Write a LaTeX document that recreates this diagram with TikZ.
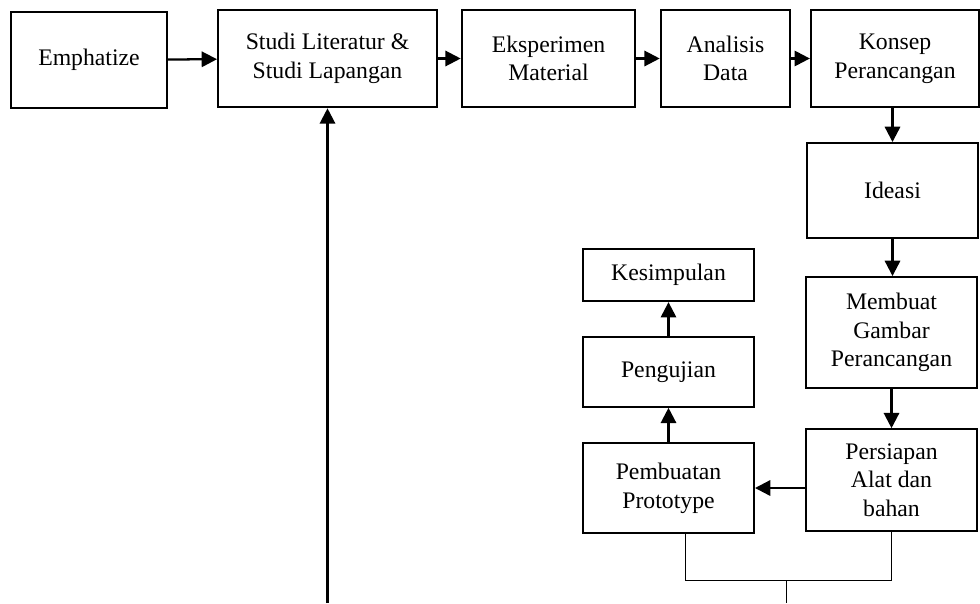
\documentclass[tikz,border=0pt]{standalone}
\usepackage{fontspec}
\setmainfont{Liberation Serif}
\usepackage{tikz}
\usetikzlibrary{positioning,shapes,arrows,arrows.meta}

\begin{document}
\begin{tikzpicture}[x=0.75pt,y=-0.75pt]
\tikzstyle{every node}+=[inner sep=0pt,font=\fontsize{17.8}{21.5}\selectfont]
\tikzstyle{box}=[draw=black,line width=1.7pt,align=center]
\tikzstyle{link}=[line width=1.7pt,-{Triangle[length=11.5pt,width=11.5pt]}]
\useasboundingbox (0,0) rectangle (980,603);
\node [box,minimum width=117pt,minimum height=72pt] (emph) at (89,60) {Emphatize};
\node [box,minimum width=164pt,minimum height=73pt] (studi) at (327.5,58.5) {Studi Literatur \&\\Studi Lapangan};
\node [box,minimum width=130pt,minimum height=73pt] (eksp) at (548.5,58.5) {Eksperimen\\Material};
\node [box,minimum width=97pt,minimum height=73pt] (anal) at (725.5,58.5) {Analisis\\Data};
\node [box,minimum width=126pt,minimum height=73pt] (konsep) at (895,58.5) {Konsep\\Perancangan};
\node [box,minimum width=128pt,minimum height=71pt] (ideasi) at (892.5,190.5) {Ideasi};
\node [box,minimum width=128pt,minimum height=83pt] (gambar) at (891.5,332.5) {Membuat\\Gambar\\Perancangan};
\node [box,minimum width=128pt,minimum height=76pt] (persiapan) at (891.5,480) {Persiapan\\Alat dan\\bahan};
\node [box,minimum width=128pt,minimum height=67pt] (prototype) at (668.5,488) {Pembuatan\\Prototype};
\node [box,minimum width=128pt,minimum height=52pt] (uji) at (668.5,372) {Pengujian};
\node [box,minimum width=128pt,minimum height=39pt] (simpul) at (668.5,275) {Kesimpulan};
\coordinate (gabung) at (786,580);
\coordinate (ujung) at (786,603);
\coordinate (balik) at (327.5,603);
\draw [link] (emph) -- (studi);
\draw [link] (studi) -- (eksp);
\draw [link] (eksp) -- (anal);
\draw [link] (anal) -- (konsep);
\draw [link] (ideasi.north |- konsep.south) -- (ideasi.north);
\draw [link] (ideasi) -- (ideasi.south |- gambar.north);
\draw [link] (gambar) -- (gambar.south |- persiapan.north);
\draw [link] (persiapan.west |- prototype.east) -- (prototype.east);
\draw [link] (prototype) -- (uji);
\draw [link] (uji) -- (simpul);
\draw [link] (balik) -- (studi.south);
\draw [black,line width=0.75pt] ([xshift=13pt]prototype.south) |- (gabung) -| (persiapan.south);
\draw [black,line width=0.75pt] (gabung) -- (ujung);
\end{tikzpicture}
\end{document}
